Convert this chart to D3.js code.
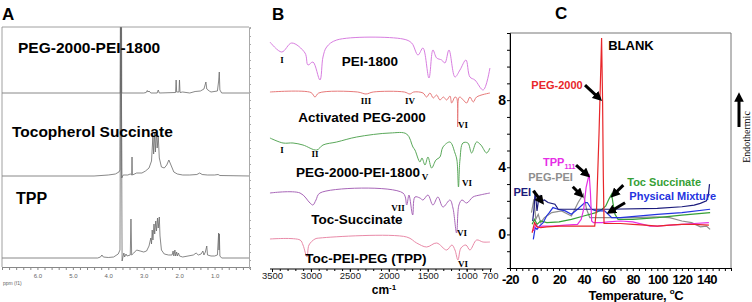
<!DOCTYPE html>
<html lang="en">
<head>
<meta charset="utf-8">
<title>NMR, FTIR and DSC</title>
<script src="https://cdn.jsdelivr.net/npm/d3@7"></script>
<style>
  body { margin: 0; background: #fff; }
  text { font-family: "Liberation Sans", Arial, sans-serif; }
</style>
</head>
<body>
<script>
var w = 752, h = 302;

// ---------- A: 1H NMR, [ppm, intensity above own baseline]
var nmrNames = ["PEG-2000-PEI-1800", "Tocopherol Succinate", "TPP"];
var nmrPegPei = [[7.0,0],[3.70,0],[3.66,0],[3.645,300],[3.62,0],[3.0,0],[2.93,0.5],[2.90,2.5],[2.88,1],[2.85,2],[2.80,0],
  [2.62,0],[2.59,3],[2.56,0],[2.1,0.5],[2.085,13],[2.07,1],[2.005,1],[1.99,13],[1.975,0.5],[1.9,1],[1.7,0],[1.55,1.5],
  [1.4,2],[1.3,4],[1.245,11],[1.22,4],[1.15,2],[1.1,1],[0.92,2],[0.885,12],[0.867,21],[0.85,3],[0.8,0],[0.0,0]];
var nmrToc = [[7.0,0],[4.4,0],[4.0,1],[3.8,2],[3.7,4],[3.67,6],[3.645,300],[3.62,-2],[3.58,1],[3.45,1],[3.38,2],[3.34,1],
  [3.33,19],[3.32,1],[3.2,3],[3.05,3],[2.95,5],[2.85,8],[2.78,15],[2.74,40],[2.72,22],[2.69,44],[2.67,24],[2.64,46],
  [2.62,28],[2.59,40],[2.56,18],[2.5,9],[2.42,8],[2.35,11],[2.29,16],[2.22,10],[2.15,4],[2.05,2],[1.9,1],[1.7,1],
  [1.5,1.5],[1.42,3],[1.35,1.5],[1.2,1],[1.0,1],[0.9,1.5],[0.85,0.5],[0.0,0]];
var nmrTpp = [[7.0,0],[4.3,0],[4.22,1],[4.18,3],[4.14,1],[4.0,0.5],[3.85,1],[3.72,4],[3.67,8],[3.645,300],[3.61,-3],
  [3.58,2],[3.56,5],[3.54,1],[3.5,4],[3.47,2],[3.38,3],[3.36,39],[3.34,3],[3.28,5],[3.2,8],[3.1,7],[3.0,6],[2.92,7],
  [2.85,12],[2.8,20],[2.78,14],[2.76,28],[2.74,18],[2.71,34],[2.69,24],[2.66,37],[2.64,27],[2.61,40],[2.59,30],
  [2.56,41],[2.54,22],[2.5,8],[2.42,4],[2.3,3],[2.2,3],[2.17,7],[2.15,2],[2.12,8],[2.1,2],[2.07,6],[2.05,2],[2.02,5],
  [1.99,2],[1.9,1],[1.75,2],[1.6,3],[1.52,5],[1.46,3],[1.38,4],[1.33,7],[1.3,3],[1.26,6],[1.22,12],[1.2,3],[1.1,2],
  [1.0,2],[0.92,3],[0.885,25],[0.875,8],[0.865,24],[0.85,2],[0.8,0],[0.0,0]];
var nmrTickLabels = [6, 5, 4, 3, 2, 1];

// ---------- B: FTIR, [wavenumber, stacked transmittance]
var irNames = ["PEI-1800", "Activated PEG-2000", "PEG-2000-PEI-1800", "Toc-Succinate", "Toc-PEI-PEG (TPP)"];
var irPei = [[3526,228],[3375,218],[3247,227],[3076,217],[3038,205],[2974,208],[2884,190],[2845,213],[2798,223],
  [2669,230],[1818,231],[1706,227],[1625,215],[1561,222],[1484,192],[1433,220],[1385,212],[1321,210],[1279,207],
  [1227,220],[1150,193],[1086,200],[1009,210],[958,193],[894,190],[787,180],[701,202]];
var irPeg = [[3526,178],[3000,177.5],[2948,173],[2900,177],[2400,178],[2293,176],[2200,178],[1800,178],[1728,176],
  [1680,178],[1560,177],[1514,173],[1471,177],[1429,172],[1385,175],[1343,170],[1299,173],[1257,170],[1214,174],
  [1192,167],[1150,173],[1128,172],[1116,143],[1102,172],[1086,173],[1043,170],[1000,167],[958,173],[915,168],
  [872,173],[701,177]];
var irPegPei = [[3526,132],[3359,127],[3230,127],[3102,125],[2926,120],[2845,125],[2669,128],[2412,133],[1985,137],
  [1770,136],[1690,123],[1664,120],[1600,108],[1574,112],[1535,105],[1497,113],[1450,102],[1394,110],[1343,113],
  [1304,123],[1214,128],[1150,117],[1125,110],[1105,83],[1086,110],[1048,127],[984,127],[936,117],[872,128],
  [817,125],[743,117],[701,122]];
var irToc = [[3526,77],[3140,77],[3012,67],[2974,65],[2935,70],[2884,77],[1818,77],[1770,65],[1741,75],[1693,55],
  [1664,73],[1600,72],[1561,70],[1497,75],[1433,65],[1369,73],[1304,63],[1214,70],[1176,62],[1129,37],[1099,65],
  [1060,70],[1000,67],[919,73],[829,75],[701,77]];
var irTpp = [[3526,31],[3140,30],[3102,25],[3050,13],[3025,25],[2948,31],[2884,32],[1770,33],[1642,27],[1514,23],
  [1385,27],[1257,20],[1189,25],[1150,20],[1112,10],[1073,22],[1009,25],[958,20],[872,30],[791,28],[701,28]];
var irTicks = [3500, 3000, 2500, 2000, 1500, 1000, 700];
var irBands = ["I", "III", "IV", "VI", "I", "II", "V", "VI", "VII", "VI", "VI"];

// ---------- C: DSC, [temperature °C, heat flow]
var dscNames = ["PEG-2000", "TPP", "PEG-PEI", "PEI", "Toc Succinate", "Physical Mixture"];
var dscPeg = [[-2,0.1],[0,0.7],[2,0.45],[5,0.4],[10,0.45],[20,0.5],[30,0.5],[40,0.5],[49,0.5],[50.5,1.5],[52.5,6],
  [54.6,11.7],[55.4,8],[56,3.5],[56.6,0.65],[60,0.65],[70,0.65],[80,0.6],[90,0.55],[100,0.5],[110,0.55],[120,0.6],
  [130,0.6],[142,0.55]];
var dscTpp = [[-1,0.2],[1,0.6],[3,0.4],[6,0.5],[15,0.5],[25,0.55],[35,0.6],[38,0.9],[40,1.5],[42,2.8],[44.5,3.6],
  [45.5,2.5],[46.5,0.8],[48,0.7],[55,0.7],[60,0.75],[70,0.8],[80,0.75],[94,0.5],[100,0.5],[110,0.55],[120,0.6],
  [130,0.65],[142,0.7]];
var dscPegPei = [[-2.5,1.3],[-0.5,2.1],[1,0.9],[3,1.2],[5,0.7],[8,1.0],[14,1.3],[22,1.4],[30,1.1],[35.5,1.9],
  [39.7,2.4],[42.4,1.5],[45,1.0],[60,1.0],[80,1.0],[100,1.05],[110,1.0],[120,0.8],[128,0.7],[135,0.45],[140,0.5],
  [143,0.3]];
var dscPei = [[-1.5,0.8],[-0.5,1.5],[0.5,2.6],[2,1.4],[3.5,2.2],[4.4,2.3],[6,2.0],[8,2.05],[11,1.9],[16.6,1.8],
  [19.3,1.5],[30,1.5],[60,1.5],[100,1.55],[120,1.65],[130,1.75],[135,1.85],[140,2.0],[141.5,2.3],[142.5,3.0]];
var dscToc = [[-2,0.6],[0,0.9],[2,0.6],[5,0.8],[10,0.7],[20,0.75],[30,0.9],[40,1.1],[50,1.3],[55,1.5],[58,1.7],
  [60.5,2.1],[62.8,2.4],[64,1.8],[65.5,1.2],[68,0.9],[80,0.9],[100,1.0],[120,1.15],[143,1.3]];
var dscMix = [[-1,-0.3],[0.5,0.4],[2,0.3],[4,0.5],[7,0.7],[9.8,1.1],[12,1.3],[15,1.6],[19,1.5],[25,1.4],[30,1.2],
  [35,1.5],[41,1.9],[43,1.9],[46.5,1.5],[50,1.4],[57,1.4],[60,1.2],[62.8,1.0],[70,1.0],[100,1.2],[120,1.3],[143,1.5]];
var dscXTicks = [-20, 0, 20, 40, 60, 80, 100, 120, 140];
var dscYTicks = [0, 4, 8];

var svg = d3.select("body").append("svg").attr("width", w).attr("height", h);

function panelLetter(t, x) {
  svg.append("text").attr("x", x).attr("y", 20).text(t)
     .attr("font-size", "17px").attr("font-weight", "bold");
}

// ===================== A =====================
var xA = d3.scaleLinear().domain([7, 0]).range([2, 250]);
var yA = d3.scaleLinear().domain([0, 241]).range([268, 27]);
panelLetter("A", 2);

svg.append("clipPath").attr("id", "clipA").append("rect")
   .attr("x", 2).attr("y", 27).attr("width", 247).attr("height", 240);

var nmrSets = [nmrPegPei, nmrToc, nmrTpp];
var nmrBase = [175, 92, 10];
var gA = svg.append("g").attr("clip-path", "url(#clipA)");
nmrSets.forEach(function(s, i) {
  var line = d3.line()
    .x(function(d) { return xA(d[0]); })
    .y(function(d) { return yA(d[1] + nmrBase[i]); });
  gA.append("path").attr("d", line(s)).attr("fill", "none")
    .attr("stroke", "#6a6a6a").attr("stroke-width", 0.8);
});

svg.append("path").attr("d", "M2,267V27H249").attr("fill", "none").attr("stroke", "#888").attr("stroke-width", 0.8);

var axA = svg.append("g").attr("transform", "translate(0,267)")
  .call(d3.axisBottom(xA)
    .tickValues(d3.range(0, 36).map(function(i) { return i * 0.2; }))
    .tickSize(3)
    .tickFormat(function(d) {
      var r = Math.round(d);
      return (Math.abs(d - r) < 1e-6 && nmrTickLabels.indexOf(r) >= 0) ? r.toFixed(1) : "";
    }));
axA.selectAll("path, line").attr("stroke", "#888");
axA.selectAll("text").attr("font-size", "6px").attr("fill", "#666").attr("dy", "0.9em");

var axAR = svg.append("g").attr("transform", "translate(249,0)")
  .call(d3.axisRight(yA).tickValues(d3.range(0, 242, 8)).tickSize(2).tickFormat(""));
axAR.selectAll("path, line").attr("stroke", "#aaa");

svg.append("text").attr("x", 3).attr("y", 285).text("ppm (f1)")
   .attr("font-size", "5px").attr("fill", "#666");

var nmrLabelPos = [[18, 53, 15.5], [12, 137, 15.5], [16, 204, 16]];
nmrNames.forEach(function(n, i) {
  svg.append("text").attr("x", nmrLabelPos[i][0]).attr("y", nmrLabelPos[i][1]).text(n)
     .attr("font-size", nmrLabelPos[i][2] + "px").attr("font-weight", "bold");
});

// ===================== B =====================
var xB = d3.scaleLinear().domain([3500, 700]).range([272, 490]);
var yB = d3.scaleLinear().domain([0, 240]).range([270, 30]);
panelLetter("B", 272);

var irSets = [irPei, irPeg, irPegPei, irToc, irTpp];
var irColors = ["#d87ee0", "#e77a7a", "#5aa85a", "#a866b8", "#e98aa8"];
var lineB = d3.line()
  .x(function(d) { return xB(d[0]); })
  .y(function(d) { return yB(d[1]); })
  .curve(d3.curveCatmullRom.alpha(0.5));
irSets.forEach(function(s, i) {
  svg.append("path").attr("d", lineB(s)).attr("fill", "none")
     .attr("stroke", irColors[i]).attr("stroke-width", 1);
});

var irLabelPos = [[370, 66], [362, 122], [358, 177], [357, 224], [366, 263]];
irNames.forEach(function(n, i) {
  svg.append("text").attr("x", irLabelPos[i][0]).attr("y", irLabelPos[i][1]).text(n)
     .attr("text-anchor", "middle").attr("font-size", "13.5px").attr("font-weight", "bold");
});

// roman numeral band labels
var bandPos = [[282, 63], [366, 104], [410, 104], [463, 128], [282, 153], [315, 157], [425, 180], [467, 186],
  [398, 211], [462, 236], [463, 267]];
irBands.forEach(function(b, i) {
  svg.append("text").attr("x", bandPos[i][0]).attr("y", bandPos[i][1]).text(b)
     .attr("text-anchor", "middle").attr("font-size", "9px").attr("font-weight", "bold")
     .style("font-family", "'Liberation Serif', 'Times New Roman', serif");
});

var axB = svg.append("g").attr("transform", "translate(0,269)")
  .call(d3.axisBottom(xB).tickValues(irTicks).tickSize(3).tickFormat(d3.format("d")));
axB.select(".domain").attr("d", "M270,0H492");
axB.selectAll("text").attr("font-size", "9.5px").attr("fill", "#222").attr("dy", "0.45em");
var axBm = svg.append("g").attr("transform", "translate(0,269)")
  .call(d3.axisBottom(xB).tickValues(d3.range(700, 3501, 100)).tickSize(2).tickFormat(""));
axBm.select(".domain").remove();

var cm = svg.append("text").attr("x", 384).attr("y", 294).attr("text-anchor", "middle")
  .attr("font-size", "12px").attr("font-weight", "bold");
cm.append("tspan").text("cm");
cm.append("tspan").text("-1").attr("font-size", "8px").attr("dy", -4);

// ===================== C =====================
var xC = d3.scaleLinear().domain([-20, 160]).range([510, 731]);
var yC = d3.scaleLinear().domain([-2, 12]).range([268, 33]);
svg.append("text").attr("x", 555).attr("y", 19).text("C")
   .attr("font-size", "17px").attr("font-weight", "bold");

svg.append("path").attr("d", "M510,268V33H731V268").attr("fill", "none")
   .attr("stroke", "#777").attr("stroke-width", 1);

var dscSets = [dscPeg, dscTpp, dscPegPei, dscPei, dscToc, dscMix];
var dscColors = ["#e8262a", "#e62ee6", "#8e8e8e", "#1c1c7c", "#36a036", "#2433e0"];
var dscOrder = [2, 4, 5, 3, 1, 0];
var lineC = d3.line()
  .x(function(d) { return xC(d[0]); })
  .y(function(d) { return yC(d[1]); });
dscOrder.forEach(function(i) {
  svg.append("path").attr("d", lineC(dscSets[i])).attr("fill", "none")
     .attr("stroke", dscColors[i]).attr("stroke-width", 1.2);
});

var axCx = svg.append("g").attr("transform", "translate(0,268)")
  .call(d3.axisBottom(xC).tickValues(d3.range(-20, 161, 5)).tickSize(3)
    .tickFormat(function(d) { return dscXTicks.indexOf(d) >= 0 ? d : ""; }));
axCx.selectAll("text").attr("font-size", "13px").attr("font-weight", "bold").attr("fill", "#000")
  .attr("letter-spacing", "-0.6px").attr("dy", "0.8em");
var axCy = svg.append("g").attr("transform", "translate(510,0)")
  .call(d3.axisLeft(yC).tickValues(d3.range(-2, 13, 1)).tickSize(3).tickPadding(1)
    .tickFormat(function(d) { return dscYTicks.indexOf(d) >= 0 ? d : ""; }));
axCy.selectAll("text").attr("font-size", "14px").attr("font-weight", "bold").attr("fill", "#000");

var temp = svg.append("text").attr("x", 636).attr("y", 300).attr("text-anchor", "middle")
  .attr("font-size", "13px").attr("font-weight", "bold").attr("letter-spacing", "-0.3px");
temp.append("tspan").text("Temperature, ");
temp.append("tspan").text("o").attr("font-size", "8px").attr("dy", -6);
temp.append("tspan").text("C").attr("dy", 6);

svg.append("defs").append("marker").attr("id", "head")
  .attr("viewBox", "0 0 10 10").attr("refX", 6).attr("refY", 5)
  .attr("markerWidth", 3.2).attr("markerHeight", 3.2).attr("orient", "auto")
  .append("path").attr("d", "M0,0L10,5L0,10Z").attr("fill", "#000");

// annotation arrows, [from T, from value, to T, to value]
var dscArrows = [[41.1, 8.9, 52.7, 8.1], [33.8, 4.13, 43, 3.54], [31.1, 2.84, 37.8, 2.35],
  [-1.0, 2.6, 5.8, 1.95], [72.3, 2.94, 64.1, 2.35], [73.7, 1.89, 61.4, 1.35]];
dscArrows.forEach(function(a) {
  svg.append("line").attr("x1", xC(a[0])).attr("y1", yC(a[1]))
     .attr("x2", xC(a[2])).attr("y2", yC(a[3]))
     .attr("stroke", "#000").attr("stroke-width", 3).attr("marker-end", "url(#head)");
});

svg.append("text").attr("x", xC(60)).attr("y", yC(11)).text("BLANK")
   .attr("font-size", "13px").attr("font-weight", "bold");

// label anchors [T, value, anchor]
var dscLabelPos = [[39.2, 8.66, "end"], [6.9, 4.07, "start"], [-5.1, 3.18, "start"],
  [-17.2, 2.29, "start"], [75.5, 2.88, "start"], [77.2, 2.05, "start"]];
dscNames.forEach(function(n, i) {
  var t = svg.append("text").attr("x", xC(dscLabelPos[i][0])).attr("y", yC(dscLabelPos[i][1]))
    .attr("text-anchor", dscLabelPos[i][2]).attr("font-size", "11px").attr("font-weight", "bold")
    .attr("fill", dscColors[i]);
  t.append("tspan").text(n);
  if (n === "TPP") t.append("tspan").text("111").attr("font-size", "7px").attr("dy", 3);
});

// endothermic arrow on the right
svg.append("line").attr("x1", 739).attr("y1", 127).attr("x2", 739).attr("y2", 96)
   .attr("stroke", "#000").attr("stroke-width", 3).attr("marker-end", "url(#head)");
svg.append("text").attr("transform", "translate(750,137) rotate(-90)")
   .attr("text-anchor", "middle").attr("font-size", "10px").text("Endothermic")
   .style("font-family", "'Liberation Serif', 'Times New Roman', serif");
</script>
</body>
</html>
